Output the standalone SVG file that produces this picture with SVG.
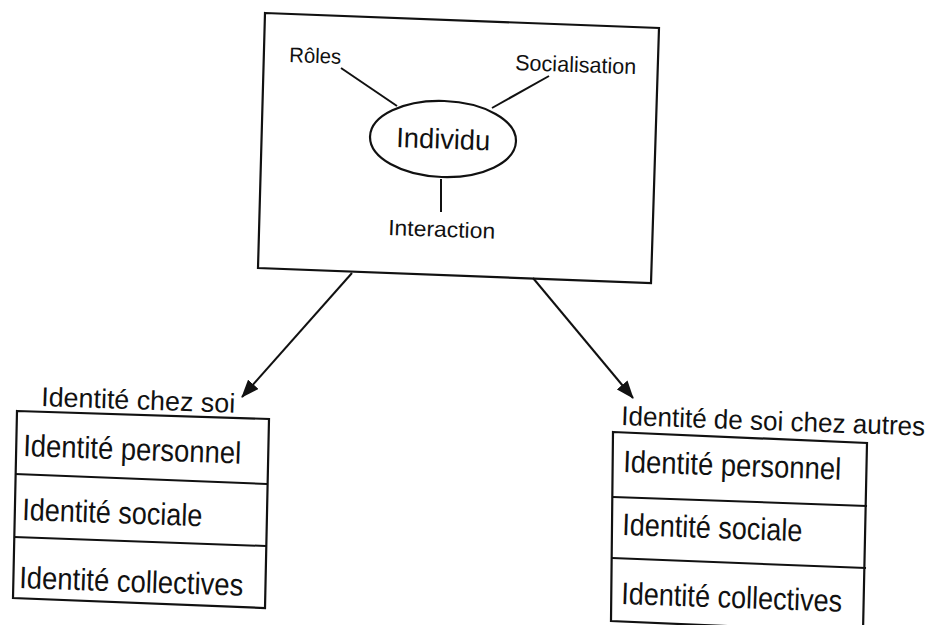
<svg xmlns="http://www.w3.org/2000/svg" width="936" height="625" viewBox="0 0 936 625">
<defs>
<style>
.box{fill:none;stroke:#111;stroke-width:2.2}
.ln{stroke:#111;stroke-width:2;fill:none}
.t{font-family:"Liberation Sans",Arial,sans-serif;fill:#111}
</style>
<marker id="ah" viewBox="0 0 18 14" refX="17" refY="7" markerWidth="18" markerHeight="14" markerUnits="userSpaceOnUse" orient="auto">
<path d="M0,0 L18,7 L0,14 Z" fill="#111"/>
</marker>
</defs>
<rect width="936" height="625" fill="#fff"/>
<g id="top">
<polygon class="box" points="265,13 659,28 651,283 258,268"/>
<ellipse class="box" cx="443" cy="139" rx="73" ry="38" transform="rotate(2 443 139)"/>
<text class="t" x="396" y="147" font-size="28" textLength="94" lengthAdjust="spacingAndGlyphs" transform="rotate(2 396 147)">Individu</text>
<text class="t" x="289" y="62" font-size="21" textLength="52" lengthAdjust="spacingAndGlyphs" transform="rotate(2 289 62)">Rôles</text>
<text class="t" x="515" y="70" font-size="22" textLength="121" lengthAdjust="spacingAndGlyphs" transform="rotate(2 515 70)">Socialisation</text>
<text class="t" x="388" y="235" font-size="22" textLength="107" lengthAdjust="spacingAndGlyphs" transform="rotate(2 388 235)">Interaction</text>
</g>
<g id="connectors">
<line class="ln" x1="341" y1="68" x2="397" y2="106"/>
<line class="ln" x1="549" y1="76" x2="492" y2="108"/>
<line class="ln" x1="441" y1="179" x2="441" y2="212"/>
<line class="ln" x1="352" y1="273" x2="242" y2="397" marker-end="url(#ah)"/>
<line class="ln" x1="533" y1="278" x2="633" y2="398" marker-end="url(#ah)"/>
</g>
<g id="left">
<text class="t" x="41" y="406" font-size="27" textLength="194" lengthAdjust="spacingAndGlyphs" transform="rotate(2 41 406)">Identité chez soi</text>
<polygon class="box" points="17,411 269,419 265,608 13,598"/>
<line class="ln" x1="15" y1="474" x2="267" y2="484"/>
<line class="ln" x1="14" y1="537" x2="266" y2="546"/>
<text class="t" x="23" y="456" font-size="31" textLength="218" lengthAdjust="spacingAndGlyphs" transform="rotate(2 23 456)">Identité personnel</text>
<text class="t" x="22" y="520" font-size="31" textLength="180" lengthAdjust="spacingAndGlyphs" transform="rotate(2 22 520)">Identité sociale</text>
<text class="t" x="19" y="588" font-size="31" textLength="224" lengthAdjust="spacingAndGlyphs" transform="rotate(2 19 588)">Identité collectives</text>
</g>
<g id="right">
<text class="t" x="621" y="425" font-size="27" textLength="304" lengthAdjust="spacingAndGlyphs" transform="rotate(2 621 425)">Identité de soi chez autres</text>
<polygon class="box" points="613,432 867,443 863,632 611,621"/>
<line class="ln" x1="613" y1="497" x2="867" y2="506"/>
<line class="ln" x1="612" y1="558" x2="866" y2="568"/>
<text class="t" x="623" y="472" font-size="31" textLength="218" lengthAdjust="spacingAndGlyphs" transform="rotate(2 623 472)">Identité personnel</text>
<text class="t" x="622" y="535" font-size="31" textLength="180" lengthAdjust="spacingAndGlyphs" transform="rotate(2 622 535)">Identité sociale</text>
<text class="t" x="621" y="604" font-size="31" textLength="221" lengthAdjust="spacingAndGlyphs" transform="rotate(2 621 604)">Identité collectives</text>
</g>
</svg>
